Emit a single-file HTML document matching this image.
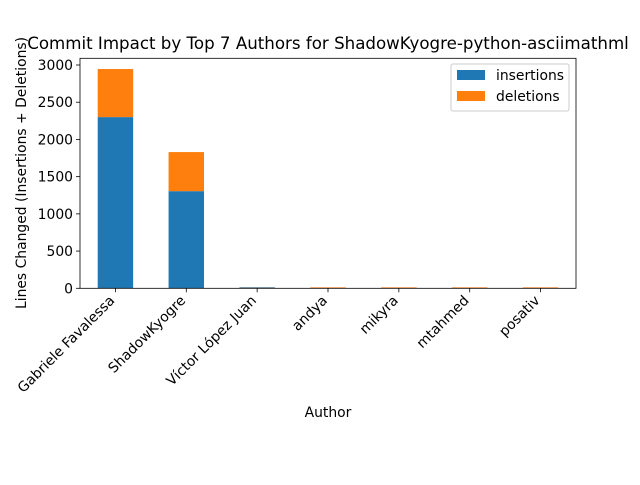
<!DOCTYPE html>
<html><head><meta charset="utf-8"><style>
body{margin:0;background:#fff;font-family:"Liberation Sans","DejaVu Sans",sans-serif}
text{font-family:"DejaVu Sans","Liberation Sans",sans-serif}
</style></head><body>
<svg id="chart" width="640" height="480" xmlns="http://www.w3.org/2000/svg">
<rect width="640" height="480" fill="#fff"/>
<text x="328" y="49" font-size="16.67" text-anchor="middle">Commit Impact by Top 7 Authors for ShadowKyogre-python-asciimathml</text>
<text transform="translate(26,173) rotate(-90)" font-size="13.9" text-anchor="middle">Lines Changed (Insertions + Deletions)</text>
<text x="328" y="417" font-size="13.9" text-anchor="middle">Author</text>
<g id="bars"></g><g id="axes"></g>
<g>
<rect x="451" y="64" width="118" height="47" fill="#fff" stroke="#ccc" rx="2"/>
<rect x="457" y="70" width="28" height="10" fill="#1f77b4"/>
<text x="496" y="80" font-size="13.9">insertions</text>
<rect x="457" y="91" width="28" height="10" fill="#ff7f0e"/>
<text x="496" y="101" font-size="13.9">deletions</text>
</g>
</svg>
<script>
const authors=["Gabriele Favalessa","ShadowKyogre","Víctor López Juan","andya","mikyra","mtahmed","posativ"];
const insertions=[2300,1305,12,2,2,2,2];
const deletions=[646,525,2,10,10,10,10];
const yTicks=[0,500,1000,1500,2000,2500,3000];
const NS="http://www.w3.org/2000/svg";
const L=80,R=576,T=58.3,B=288.3,yMax=3000/((288.3-65)/(B-T));
const step=(R-L)/authors.length;
function xs(i){return L+step*(i+0.5);}
function ys(v){return B-(v/yMax)*(B-T);}
function mk(t,a,p){const e=document.createElementNS(NS,t);for(const k in a)e.setAttribute(k,a[k]);p.appendChild(e);return e;}
const bars=document.getElementById('bars'),axes=document.getElementById('axes');
const bw=step*0.5;
authors.forEach((a,i)=>{
 const r1=mk('rect',{x:xs(i)-bw/2,y:ys(insertions[i]),width:bw,height:B-ys(insertions[i]),fill:'#1f77b4'},bars);
 
 
 const top=insertions[i]+deletions[i];
 const r2=mk('rect',{x:xs(i)-bw/2,y:ys(top),width:bw,height:ys(insertions[i])-ys(top),fill:'#ff7f0e'},bars);
 
 
 mk('line',{x1:xs(i),x2:xs(i),y1:B,y2:B+4,stroke:'#000','stroke-width':0.8},axes);
 const t=mk('text',{transform:`translate(${xs(i)},${B+13}) rotate(-45)`,'font-size':13.9,'text-anchor':'end'},axes);
 t.textContent=a;
 
 
});
yTicks.forEach(v=>{
 mk('line',{x1:L-4,x2:L,y1:ys(v),y2:ys(v),stroke:'#000','stroke-width':0.8},axes);
 const t=mk('text',{x:L-7,y:ys(v)+5,'font-size':13.9,'text-anchor':'end'},axes);
 t.textContent=v;
 
 
});
const f=mk('rect',{x:L,y:T,width:R-L,height:B-T,fill:'none',stroke:'#000','stroke-width':0.8},axes);


</script>
</body></html>
